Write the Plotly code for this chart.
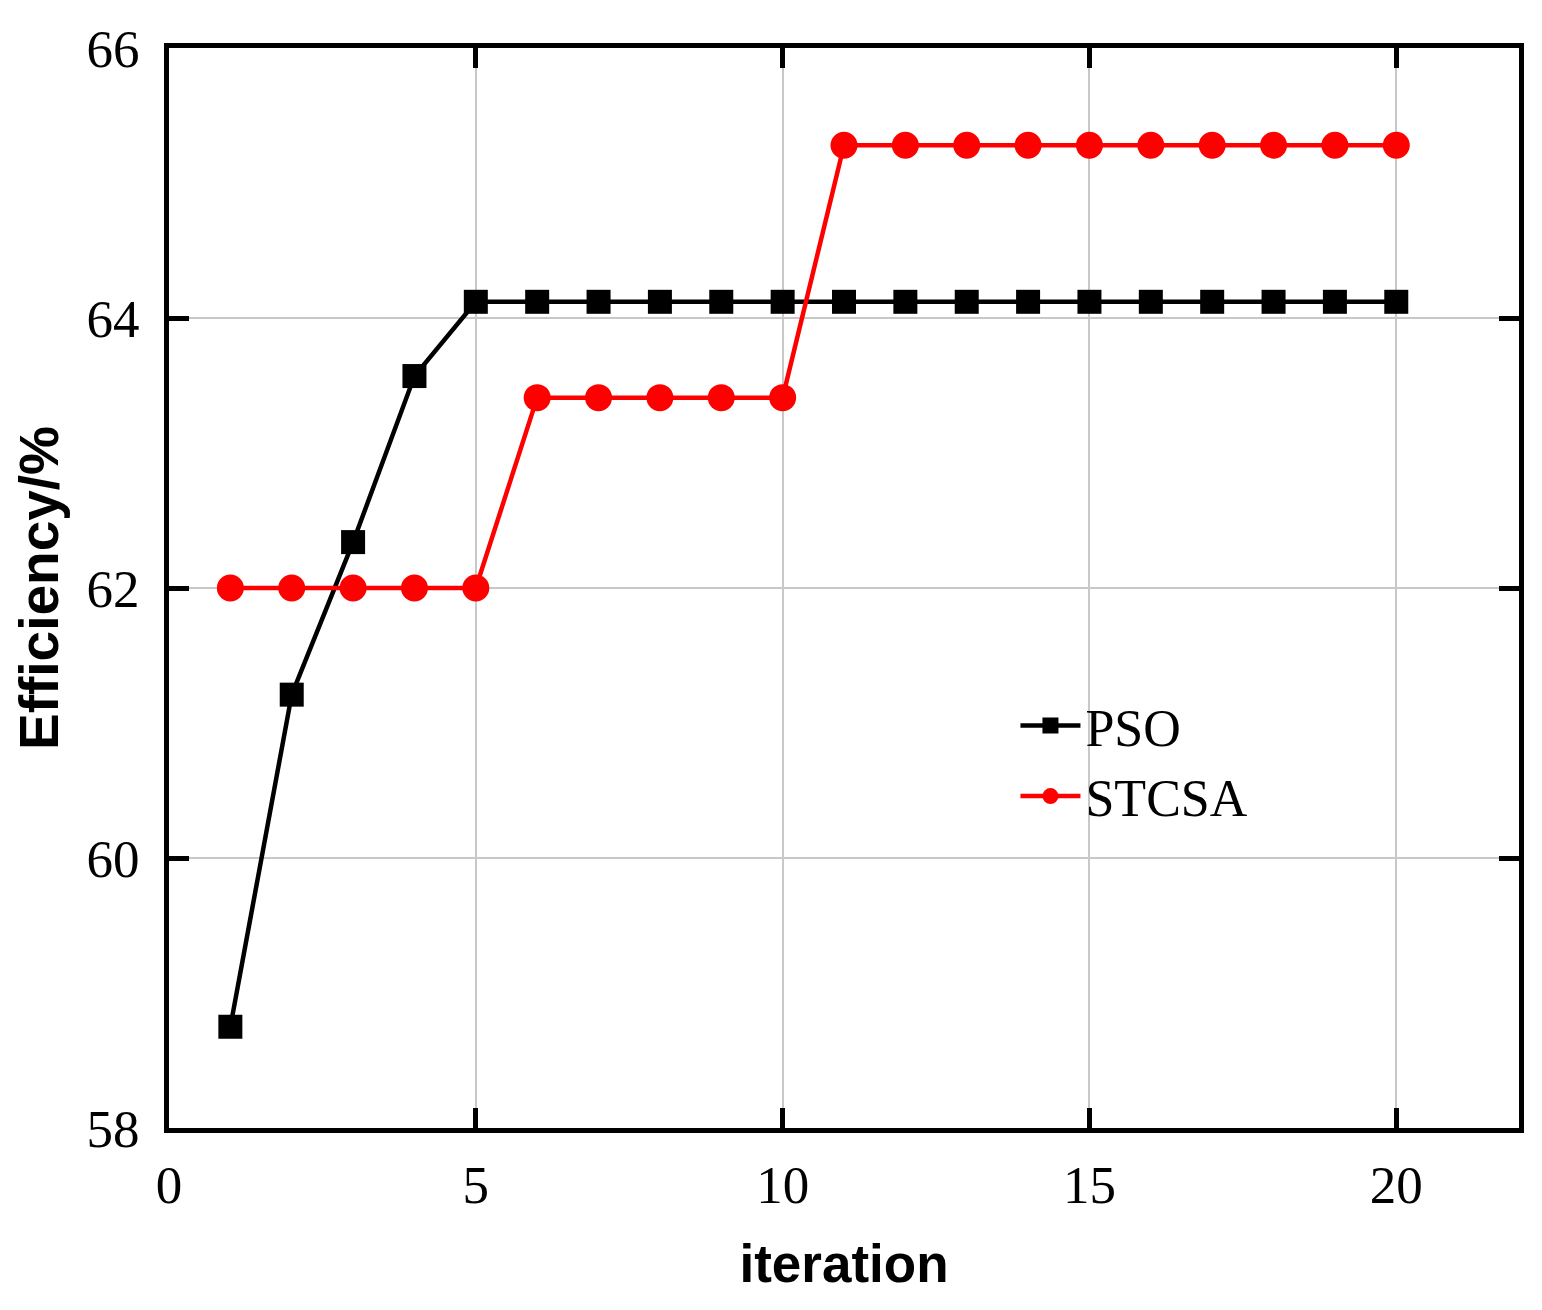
import plotly.graph_objects as go

# -----------------------------
# Data
# -----------------------------
iterations = list(range(1, 21))
pso = [58.75, 61.21, 62.34, 63.57] + [64.12] * 16
stcsa = [62.0] * 5 + [63.41] * 5 + [65.28] * 10

x_ticks = [0, 5, 10, 15, 20]
y_ticks = [58, 60, 62, 64, 66]

serif = "Liberation Serif, Times New Roman, serif"
sans = "Liberation Sans, Arial, sans-serif"

fig = go.Figure()

fig.add_trace(go.Scatter(
    x=iterations, y=pso, mode="lines+markers", name="PSO",
    line=dict(color="black", width=4.5),
    marker=dict(symbol="square", size=24, color="black"),
))
fig.add_trace(go.Scatter(
    x=iterations, y=stcsa, mode="lines+markers", name="STCSA",
    line=dict(color="#ff0000", width=4.5),
    marker=dict(symbol="circle", size=27, color="#ff0000"),
))

axis_common = dict(
    showline=True, linecolor="black", linewidth=5, mirror="allticks",
    ticks="inside", ticklen=20, tickwidth=5, tickcolor="black",
    showgrid=True, gridcolor="#c8c8c8", gridwidth=2,
    zeroline=False,
    tickfont=dict(family=serif, size=53, color="black"),
)

# x axis
fig.update_xaxes(
    range=[0, 22], tickvals=x_ticks,
    title=dict(text="<b>iteration</b>", font=dict(family=sans, size=53, color="black"), standoff=34),
    ticklabelstandoff=6,
    **axis_common,
)
# y axis
fig.update_yaxes(
    range=[58, 66], tickvals=y_ticks,
    title=dict(text="<b>Efficiency/%</b>", font=dict(family=sans, size=55, color="black"), standoff=18),
    ticklabelstandoff=14,
    **axis_common,
)

fig.update_layout(
    width=1542, height=1310,
    margin=dict(l=161, r=31, t=37, b=190),
    paper_bgcolor="white", plot_bgcolor="white",
    showlegend=True,
    legend=dict(
        x=0.627, y=0.41, xanchor="left", yanchor="top",
        bgcolor="rgba(0,0,0,0)",
        font=dict(family=serif, size=52, color="black"),
        itemwidth=60,
        tracegroupgap=0,
    ),
)

fig.write_html("out.html")
